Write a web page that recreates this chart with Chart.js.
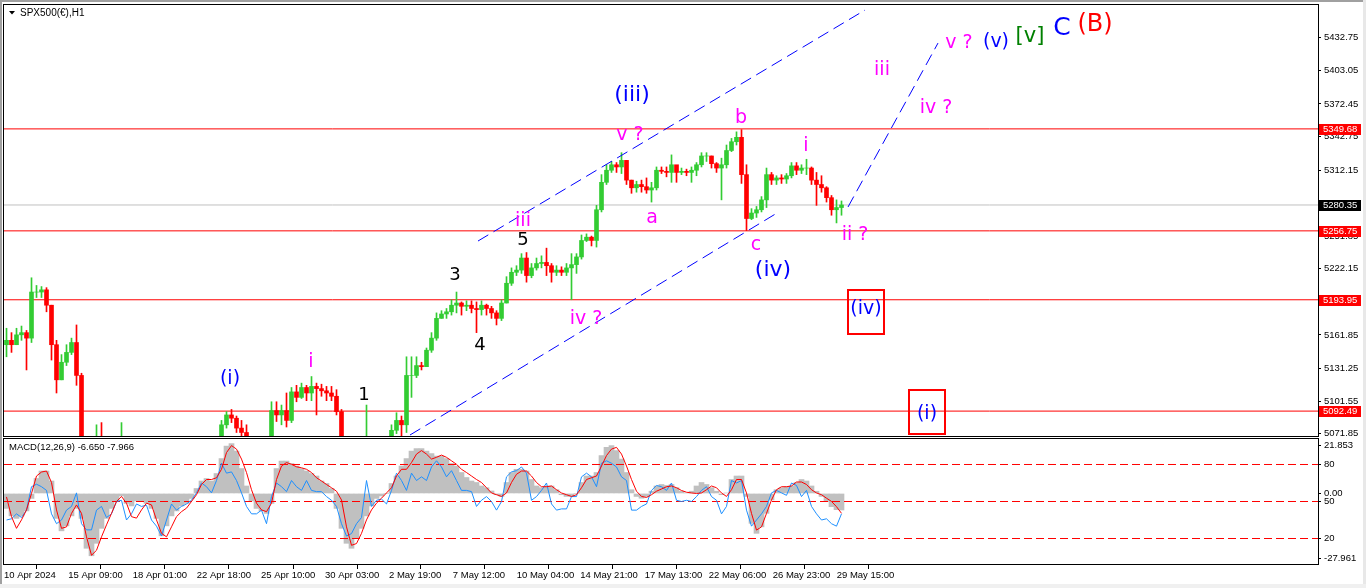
<!DOCTYPE html>
<html>
<head>
<meta charset="utf-8">
<title>SPX500(€),H1</title>
<script src="https://cdn.jsdelivr.net/npm/chart.js@4.4.1/dist/chart.umd.min.js"></script>
<style>
  html, body { margin: 0; padding: 0; background: #fff; }
  #wrap { position: relative; width: 1366px; height: 588px; overflow: hidden; background: #fff; }
  canvas { position: absolute; left: 0; }
  #main { top: 0; }
  #macd { top: 437px; }
  .edge { position: absolute; }
</style>
</head>
<body>
<div id="wrap">
  <canvas id="main" width="1366" height="437"></canvas>
  <canvas id="macd" width="1366" height="151"></canvas>
  <div class="edge" style="left:0;top:0;width:1366px;height:2px;background:#a0a0a0"></div>
  <div class="edge" style="left:0;top:0;width:2px;height:588px;background:#a0a0a0"></div>
  <div class="edge" style="left:1363px;top:0;width:3px;height:588px;background:#e8e8e8"></div>
  <div class="edge" style="left:0;top:584px;width:1366px;height:4px;background:#f0f0f0"></div>
</div>
<script>
// SPX500 H1 - Elliott wave count with MACD window

// ===================== DATA =====================
// one drawn candle = 5 hourly bars of the original chart
const STEP = 5;
const firstOpen = 5153;

const highs = [
    5168,5164,5168,5170,5166,5214,5207,5206,5205,5189,
    5157,5144,5153,5159,5171,5127,5068,5066,5080,5082,
    5068,5060,5062,5082,5064,5040,5030,5032,5020,5000,
    4985,4995,5000,5010,5015,5012,5020,5025,5030,5040,
    5050,5060,5066,5084,5092,5094,5088,5084,5080,5068,
    5050,5035,5060,5101,5101,5098,5109,5114,5116,5118,
    5116,5124,5118,5117,5115,5115,5112,5094,5068,5050,
    5048,5040,5098,5030,5020,5040,5060,5080,5091,5088,
    5142,5142,5142,5137,5150,5164,5182,5184,5186,5194,
    5201,5192,5193,5193,5192,5193,5190,5188,5184,5194,
    5215,5223,5225,5236,5237,5227,5232,5234,5241,5227,
    5225,5224,5227,5236,5236,5253,5254,5252,5280,5308,
    5317,5320,5319,5328,5321,5303,5302,5303,5305,5301,
    5315,5315,5315,5326,5316,5314,5313,5315,5319,5328,
    5328,5325,5319,5323,5335,5341,5347,5349,5317,5277,
    5279,5288,5314,5310,5307,5308,5309,5319,5319,5317,
    5322,5315,5310,5307,5297,5289,5285,5284
];
const lows = [
    5142,5146,5153,5157,5130,5155,5196,5196,5183,5139,
    5109,5121,5134,5144,5116,5057,5048,5050,5052,5055,
    5045,5040,5042,5050,5030,5015,5008,5010,4990,4960,
    4952,4975,4985,4990,4995,4990,5000,5008,5012,5020,
    5030,5040,5050,5060,5077,5082,5073,5066,5062,5040,
    5005,5010,5025,5052,5083,5080,5078,5082,5101,5104,
    5102,5102,5089,5106,5102,5102,5089,5062,5040,5030,
    5025,5015,5010,4995,5000,5010,5030,5052,5072,5069,
    5073,5105,5123,5130,5133,5146,5157,5177,5177,5180,
    5182,5180,5184,5182,5164,5180,5180,5177,5171,5175,
    5191,5207,5216,5218,5210,5214,5221,5223,5216,5210,
    5216,5216,5216,5194,5218,5231,5247,5243,5242,5274,
    5299,5310,5310,5309,5299,5291,5292,5292,5291,5283,
    5294,5309,5306,5301,5301,5308,5307,5301,5307,5315,
    5320,5314,5310,5285,5314,5329,5335,5300,5257,5267,
    5269,5274,5278,5299,5299,5300,5300,5305,5308,5309,
    5308,5299,5280,5292,5283,5271,5264,5271
];
const closes = [
    5157,5153,5162,5164,5159,5201,5201,5203,5189,5153,
    5121,5137,5146,5155,5125,5062,5055,5060,5064,5062,
    5050,5048,5058,5060,5035,5020,5025,5015,4995,4970,
    4980,4990,4995,5005,5000,5008,5015,5020,5026,5035,
    5045,5055,5062,5080,5089,5086,5077,5073,5066,5045,
    5015,5030,5055,5093,5089,5093,5084,5110,5105,5114,
    5109,5115,5113,5111,5109,5106,5092,5066,5045,5040,
    5030,5020,5025,5005,5015,5035,5055,5075,5084,5080,
    5125,5125,5134,5133,5148,5159,5177,5181,5183,5189,
    5191,5188,5189,5186,5185,5189,5186,5182,5177,5191,
    5209,5219,5221,5232,5216,5223,5227,5228,5225,5219,
    5221,5219,5223,5226,5233,5248,5251,5248,5276,5301,
    5312,5317,5315,5321,5303,5296,5299,5297,5294,5296,
    5312,5311,5310,5317,5310,5311,5310,5312,5317,5325,
    5325,5318,5314,5317,5330,5338,5342,5308,5268,5273,
    5276,5285,5308,5303,5305,5304,5307,5316,5312,5314,
    5314,5303,5299,5296,5287,5276,5278,5280.35
];

// MACD(12,26,9): main (histogram) and signal
const macdMain = [
    -6,-9,-10,-9,-7,-2,6,9,9,5,
    -10,-15,-13,-9,-6,-10,-22,-25,-20,-14,
    -10,-6,-3,-1,-4,-5,-3,-3,-4,-6,
    -10,-17,-13,-9,-7,-5,-4,-2,2,5,
    6,5,8,14,19,20,17,10,3,-3,
    -6,-7,-8,-4,10,13,13,12,11,10,
    9,8,7,5,4,2,-6,-14,-20,-22,
    -18,-14,-9,-5,-2,-1,0,4,7,11,
    14,17,18,18,17,16,15,15,14,12,
    11,8.4,6.4,5,4.4,3,2.3,1,-0.5,-1.2,
    4.4,8.4,9.7,9.7,9,5.6,3,2.3,3,3,
    1.5,-0.5,-1.2,-1.2,0,4.4,7,7,8.4,15.2,
    18.5,19.2,17.2,13.8,8.4,1.5,-1.2,-1.9,-1.2,0.9,
    3,3.6,3.2,3.6,2.3,0.9,0.2,0.9,3,4.4,
    3.6,2.3,0.9,-0.5,0.2,5.6,7,7,-1.2,-12,
    -16,-13.4,-8,-2.6,1.5,2.3,2.7,3,4.4,5.6,
    5,3,0.9,-1.2,-3.2,-5.3,-6.5,-6.65
];
const macdSignal = [
    -1.4,-9.3,-14,-10.6,-6.6,0,7,8.6,9,4.4,
    -6.6,-14,-13.4,-8,-4.6,-8,-17.4,-24.8,-22.8,-17.4,
    -12.6,-8,-3.2,-1.2,-3.9,-9.3,-9.9,-6.6,-3.9,-4.6,
    -10.6,-16,-17.4,-13.4,-9.3,-7.3,-5.9,-3.2,-0.5,3.6,
    5.6,5.6,6.3,9.7,16.4,19.2,17.8,13.8,8.4,1.5,
    -3.9,-6.6,-7.3,-3.9,5.6,11,12.4,11.7,10.7,10.3,
    9.7,8.4,6.3,5,3.6,2.3,0.9,-2.6,-13.4,-20.8,
    -20.1,-16,-10.6,-6.6,-3.9,-1.9,0.2,2.3,7,9.7,
    9.7,12.4,15.8,17.2,15.8,13.8,14.5,15.4,14.5,13.1,
    11.7,9.7,8.4,7,5.6,4.4,2.3,0.2,-0.5,-1.2,
    0.2,4.4,7.7,9,9,7,4.4,2.7,2.7,3,
    1.5,0.2,-0.5,-1.2,-0.5,2.3,5.6,6.3,7,11,
    15.2,17.8,18.5,15.8,11,5.6,0.9,-1.2,-1.6,-0.5,
    0.9,1.8,2.7,3,2.3,1.2,0.5,0.2,0,0.2,
    1.5,3,2.3,0.2,-1.2,1.5,5.6,5.6,0.2,-8,
    -14.7,-13.4,-8,-2.6,1.5,2.7,2.7,3,4.6,4.6,
    3.6,1.5,0.2,-0.5,-1.9,-3.2,-5.3,-7.97
];
// oscillator (0-100) laid over the same window
const oscLine = [
    35,36,40,37,43,62,64,62,59,40,
    32,35,43,46,57,32,27,27,43,46,
    37,40,50,51,35,40,48,46,47,35,
    30,22,35,48,43,46,48,51,57,65,
    62,57,67,81,73,74,67,57,46,40,
    40,43,32,54,65,62,58,67,62,59,
    67,59,58,58,54,51,46,32,22,24,
    32,37,67,46,51,52,48,59,73,67,
    59,73,67,70,67,78,83,78,70,75,
    67,59,59,58,46,51,54,50,43,50,
    70,74,75,78,73,51,54,59,65,48,
    43,44,44,54,54,70,73,70,62,81,
    83,81,78,70,67,43,43,46,48,59,
    63,62,59,65,51,50,51,50,54,59,
    62,54,51,40,46,67,65,67,43,30,
    35,40,46,57,59,57,55,65,63,54,
    59,46,40,35,36,32,30,40
];
const oscLevels = [80, 50, 20];

const levelPrices = [5349.68, 5256.75, 5193.95, 5092.49];
const bidPrice = 5280.35;
const priceTicks = [5432.75, 5403.05, 5372.45, 5342.75, 5312.15, 5251.85, 5222.15, 5191.95, 5161.85, 5131.25, 5101.55, 5071.85];
const macdTicks = [19.2, 0, -26.0];
const macdTickLabels = ['21.853', '0.00', '-27.961'];

// hour offsets from the left edge of the chart
const timeTickPos = [0, 64.3, 128.7, 192.7, 257, 321, 385, 448.8, 512.7, 576.3, 640.7, 704.7, 768.7, 832.7];
const timeTickLabels = ['10 Apr 2024', '15 Apr 09:00', '18 Apr 01:00', '22 Apr 18:00', '25 Apr 10:00', '30 Apr 03:00', '2 May 19:00',
    '7 May 12:00', '10 May 04:00', '14 May 21:00', '17 May 13:00', '22 May 06:00', '26 May 23:00', '29 May 15:00'];

// trend lines: [hour, price] end points
const channelUpper = [[474, 5247.5], [861, 5458.0]];
const channelLower = [[406, 5070.7], [773, 5273.0]];
const projection = [[844, 5278.5], [934, 5427.9]];

// wave labels: text, hour, price, kind (boxed ones carry the box centre price)
const waveLabels = [
    ['(i)', 226, 5121.7, 'wave'],
    ['i', 307, 5137.2, 'minor'],
    ['1', 360, 5107.2, 'count'],
    ['3', 451, 5216.5, 'count'],
    ['4', 476, 5152.7, 'count'],
    ['5', 519, 5248.4, 'count'],
    ['iii', 519, 5265.7, 'minor'],
    ['iv ?', 582, 5176.4, 'minor'],
    ['v ?', 626, 5344.1, 'minor'],
    ['(iii)', 628, 5380.6, 'waveL'],
    ['a', 648, 5268.5, 'minor'],
    ['b', 737, 5359.6, 'minor'],
    ['c', 752, 5243.9, 'minor'],
    ['(iv)', 769, 5221.1, 'waveL'],
    ['i', 802, 5334.1, 'minor'],
    ['ii ?', 851, 5253.0, 'minor'],
    ['(iv)', 862, 5185.5, 'boxed', 5182.8],
    ['iii', 878, 5403.3, 'minor'],
    ['iv ?', 932, 5368.7, 'minor'],
    ['(i)', 923, 5089.8, 'boxed', 5091.6],
    ['v ?', 955, 5427.9, 'minor'],
    ['(v)', 992, 5428.9, 'wave'],
    ['[v]', 1026, 5434.3, 'green'],
    ['C', 1058, 5441.6, 'bigBlue'],
    ['(B)', 1091, 5444.3, 'bigRed']
];

// ===================== STYLE =====================
const HOURS = 1314;
const PRICE_MIN = 5069.8, PRICE_MAX = 5462.6;
const MACD_MIN = -28.3, MACD_MAX = 21.85;
const OSC_MIN = -0.67, OSC_MAX = 100.67;
const UP = '#33cc33', DOWN = '#ff0000';
const AXIS_FONT = { family: 'Liberation Sans', size: 9.5 };

const labelStyle = {
    wave:    { color: '#0000ff', size: 19 },
    waveL:   { color: '#0000ff', size: 22 },
    boxed:   { color: '#0000ff', size: 19 },
    minor:   { color: '#ff00ff', size: 19 },
    count:   { color: '#000000', size: 18 },
    green:   { color: '#008000', size: 21 },
    bigBlue: { color: '#0000ff', size: 25 },
    bigRed:  { color: '#ff0000', size: 24 }
};

Chart.defaults.font.family = 'Liberation Sans';
Chart.defaults.color = '#000';

const opens = closes.map((c, i) => i === 0 ? firstOpen : closes[i - 1]);
const candleX = i => i * STEP + STEP / 2;
const candleColors = closes.map((c, i) => c >= opens[i] ? UP : DOWN);
const segment = pts => pts.map(p => ({ x: p[0], y: p[1] }));
const hLine = v => [{ x: 0, y: v }, { x: HOURS, y: v }];

function noPad(s) {
    s.paddingTop = 0; s.paddingBottom = 0; s.paddingLeft = 0; s.paddingRight = 0;
}

const framePlugin = {
    id: 'frame',
    afterDraw(chart) {
        const { ctx, chartArea: a } = chart;
        ctx.save();
        ctx.strokeStyle = '#000';
        ctx.lineWidth = 1;
        ctx.strokeRect(a.left - 0.5, a.top - 0.5, a.right - a.left + 1, a.bottom - a.top + 1);
        ctx.restore();
    }
};

const mainOverlay = {
    id: 'mainOverlay',
    afterDraw(chart) {
        const { ctx, scales: { x, y } } = chart;
        ctx.save();
        // caption
        ctx.fillStyle = '#000';
        ctx.beginPath();
        ctx.moveTo(9, 11); ctx.lineTo(15, 11); ctx.lineTo(12, 14.5); ctx.closePath();
        ctx.fill();
        ctx.font = '10px "Liberation Sans"';
        ctx.textAlign = 'left';
        ctx.textBaseline = 'middle';
        ctx.fillText('SPX500(€),H1', 20, 13);

        // wave labels
        ctx.textAlign = 'center';
        waveLabels.forEach(([text, t, p, kind, boxP]) => {
            const st = labelStyle[kind];
            const px = x.getPixelForValue(t), py = y.getPixelForValue(p);
            ctx.font = st.size + 'px "DejaVu Sans"';
            ctx.fillStyle = st.color;
            ctx.fillText(text, px, py);
            if (boxP !== undefined) {
                const by = Math.round(y.getPixelForValue(boxP));
                ctx.strokeStyle = '#ff0000';
                ctx.lineWidth = 2;
                ctx.strokeRect(Math.round(px) - 18, by - 22, 36, 44);
            }
        });

        // price tags on the axis
        ctx.font = '9.5px "Liberation Sans"';
        ctx.textAlign = 'left';
        const tag = (v, bg) => {
            const py = Math.round(y.getPixelForValue(v));
            ctx.fillStyle = bg;
            ctx.fillRect(1319, py - 5, 42, 11);
            ctx.fillStyle = '#fff';
            ctx.fillText(v.toFixed(2), 1323, py + 0.5);
        };
        levelPrices.forEach(v => tag(v, '#ff0000'));
        tag(bidPrice, '#000000');
        ctx.restore();
    }
};

const macdOverlay = {
    id: 'macdOverlay',
    afterDraw(chart) {
        const { ctx } = chart;
        ctx.save();
        ctx.fillStyle = '#000';
        ctx.font = '9.5px "Liberation Sans"';
        ctx.textAlign = 'left';
        ctx.textBaseline = 'middle';
        ctx.fillText('MACD(12,26,9) -6.650 -7.966', 9, 10);
        ctx.restore();
    }
};

// ===================== PRICE CHART =====================
const mainDatasets = [
    {
        type: 'bar', label: 'wicks', order: 2, grouped: false, clip: 0,
        data: highs.map((h, i) => ({ x: candleX(i), y: [lows[i], h] })),
        backgroundColor: candleColors, barThickness: 1
    },
    {
        type: 'bar', label: 'bodies', order: 2, grouped: false, clip: 0,
        data: closes.map((c, i) => ({ x: candleX(i), y: [opens[i], c] })),
        backgroundColor: candleColors, barThickness: 4
    },
    ...levelPrices.map(v => ({
        type: 'line', order: 3, clip: 0, data: hLine(v),
        borderColor: '#ff0000', borderWidth: 1, pointRadius: 0
    })),
    {
        type: 'line', order: 3, clip: 0, data: hLine(bidPrice),
        borderColor: '#c0c0c0', borderWidth: 1, pointRadius: 0
    },
    ...[channelUpper, channelLower, projection].map(seg => ({
        type: 'line', order: 1, clip: 0, data: segment(seg),
        borderColor: '#0000ff', borderWidth: 1, borderDash: [12, 6], pointRadius: 0
    }))
];

new Chart(document.getElementById('main'), {
    type: 'bar',
    data: { datasets: mainDatasets },
    options: {
        responsive: false,
        animation: false,
        layout: { padding: { left: 4, top: 5, right: 0, bottom: 1 } },
        plugins: { legend: { display: false }, tooltip: { enabled: false } },
        scales: {
            x: { type: 'linear', display: false, min: 0, max: HOURS, offset: false },
            y: {
                type: 'linear', position: 'right', min: PRICE_MIN, max: PRICE_MAX, beginAtZero: false,
                afterBuildTicks: s => { s.ticks = priceTicks.map(v => ({ value: v })); },
                afterFit: s => { s.width = 48; noPad(s); },
                grid: { drawOnChartArea: false, drawTicks: true, tickLength: 3, color: '#000' },
                border: { display: true, color: '#000' },
                ticks: { autoSkip: false, padding: 3, font: AXIS_FONT, color: '#000', callback: v => v.toFixed(2) }
            }
        }
    },
    plugins: [framePlugin, mainOverlay]
});

// ===================== MACD WINDOW =====================
const oscToMacd = v => MACD_MIN + (v - OSC_MIN) / (OSC_MAX - OSC_MIN) * (MACD_MAX - MACD_MIN);
const macdAxis = macdTicks.map((v, i) => ({ value: v, txt: macdTickLabels[i] }))
    .concat(oscLevels.map(v => ({ value: oscToMacd(v), txt: String(v) })));

new Chart(document.getElementById('macd'), {
    type: 'bar',
    data: {
        datasets: [
            {
                type: 'bar', order: 4, grouped: false, clip: 0, yAxisID: 'y',
                data: macdMain.map((m, i) => ({ x: candleX(i), y: m })),
                backgroundColor: '#c0c0c0', barThickness: STEP
            },
            ...oscLevels.map(v => ({
                type: 'line', order: 3, clip: 0, yAxisID: 'y2', data: hLine(v),
                borderColor: '#ff0000', borderWidth: 1, borderDash: [8, 4], pointRadius: 0
            })),
            {
                type: 'line', order: 2, clip: 0, yAxisID: 'y2',
                data: oscLine.map((v, i) => ({ x: candleX(i), y: v })),
                borderColor: '#1e90ff', borderWidth: 1, pointRadius: 0, tension: 0
            },
            {
                type: 'line', order: 1, clip: 0, yAxisID: 'y',
                data: macdSignal.map((v, i) => ({ x: candleX(i), y: v })),
                borderColor: '#ff0000', borderWidth: 1, pointRadius: 0, tension: 0
            }
        ]
    },
    options: {
        responsive: false,
        animation: false,
        layout: { padding: { left: 4, top: 2, right: 0, bottom: 0 } },
        plugins: { legend: { display: false }, tooltip: { enabled: false } },
        scales: {
            x: {
                type: 'linear', position: 'bottom', min: 0, max: HOURS, offset: false,
                afterBuildTicks: s => { s.ticks = timeTickPos.map(v => ({ value: v })); },
                afterFit: s => { s.height = 24; noPad(s); },
                grid: { drawOnChartArea: false, drawTicks: true, tickLength: 5, color: '#000' },
                border: { display: true, color: '#000' },
                ticks: {
                    autoSkip: false, maxRotation: 0, align: 'start', padding: 1, font: AXIS_FONT, color: '#000',
                    callback: (v, i) => timeTickLabels[i]
                }
            },
            y: {
                type: 'linear', position: 'right', min: MACD_MIN, max: MACD_MAX, beginAtZero: false,
                afterBuildTicks: s => { s.ticks = macdAxis.map(t => ({ value: t.value, txt: t.txt })); },
                afterFit: s => { s.width = 48; noPad(s); },
                grid: { drawOnChartArea: false, drawTicks: true, tickLength: 3, color: '#000' },
                border: { display: true, color: '#000' },
                ticks: { autoSkip: false, padding: 3, font: AXIS_FONT, color: '#000', callback: (v, i, t) => t[i].txt }
            },
            y2: { type: 'linear', display: false, min: OSC_MIN, max: OSC_MAX }
        }
    },
    plugins: [framePlugin, macdOverlay]
});
</script>
</body>
</html>
